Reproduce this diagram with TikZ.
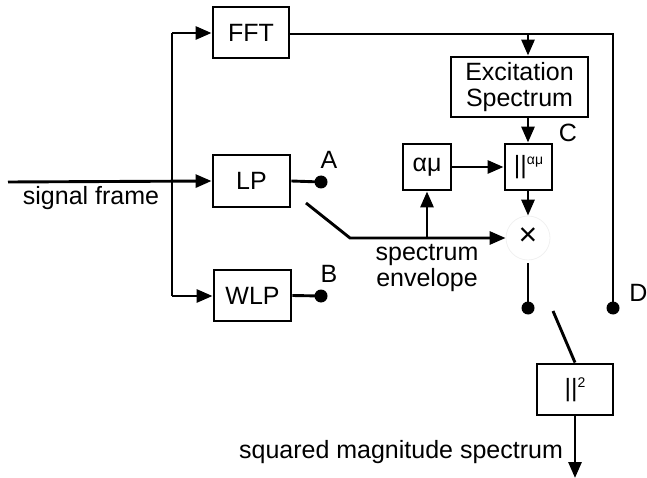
\documentclass[tikz,border=0pt]{standalone}
\usepackage{fontspec}
\setmainfont{Liberation Sans}
\usetikzlibrary{arrows.meta}
\begin{document}
\begin{tikzpicture}[x=1pt,y=-1pt,
  line width=2.9pt,
  every node/.style={font=\fontsize{25}{28}\selectfont, inner sep=0pt},
  blk/.style={draw, line width=2.9pt, rectangle},
  arr/.style={-{Triangle[length=16pt,width=13pt]}},
  dotc/.style={fill, circle, minimum size=13pt, inner sep=0pt},
  lbl/.style={font=\fontsize{25}{28}\selectfont}]
\useasboundingbox (0,0) rectangle (647,478);
% blocks
\node[blk, minimum width=76pt, minimum height=51pt] (fft) at (251,32.5) {FFT};
\node[blk, minimum width=77pt, minimum height=52pt] (lp) at (251.5,181) {LP};
\node[blk, minimum width=77pt, minimum height=51pt] (wlp) at (252.5,295.5) {WLP};
\node[blk, minimum width=137pt, minimum height=60pt, align=center] (exc) at (519.5,87) {Excitation\\[-2pt]Spectrum};
\node[blk, minimum width=47pt, minimum height=46pt] (absmu) at (528.5,167) {||\raisebox{9pt}{\fontsize{14}{14}\selectfont αμ}};
\node[blk, minimum width=48pt, minimum height=46pt] (amu) at (427,167) {αμ};
\node[draw=black!6, line width=0.8pt, circle, minimum size=44pt] (mult) at (528,238) {};
\node[font=\fontsize{32}{32}\selectfont] (x) at (528,237) {×};
\node[blk, minimum width=76pt, minimum height=51pt] (sq) at (575,389.5) {||\raisebox{9pt}{\fontsize{14}{14}\selectfont 2}};
% dots
\node[dotc] (da) at (321,182) {};
\node[dotc] (db) at (321,296) {};
\node[dotc] (dc) at (528,308) {};
\node[dotc] (dd) at (613,308) {};
% coordinates
\coordinate (in) at (8,182);
\coordinate (stop) at (172,33);
\coordinate (sbot) at (172,296);
\coordinate (ftop) at (613,34);
\coordinate (exctap) at (528,34);
\coordinate (diag0) at (306,203);
\coordinate (diag1) at (350,238);
\coordinate (envtap) at (427,238);
\coordinate (multout) at (528,263);
\coordinate (sw0) at (553,311);
\coordinate (out) at (575,478);
% labels
\node[lbl] (sig) at (91,198) {signal frame};
\node[lbl] (la) at (329,160) {A};
\node[lbl] (lb) at (329,274) {B};
\node[lbl] (lc) at (568,133) {C};
\node[lbl, anchor=west] (ld) at (628,293) {D};
\node[lbl, align=center] (env) at (427,268) {spectrum\\[-2pt]envelope};
\node[lbl] (sqm) at (401,452) {squared magnitude spectrum};
% connectors
\draw[arr] (in) -- (lp.west);
\draw (stop) -- (sbot);
\draw[arr] (stop) -- (fft.west |- stop);
\draw[arr] (sbot) -- (wlp.west |- sbot);
\draw (fft.east |- ftop) -- (ftop) -- (dd.center);
\draw[arr] (exctap) -- (exc.north -| exctap);
\draw[arr] (exc.south -| exctap) -- (absmu.north -| exctap);
\draw[arr] (amu.east) -- (absmu.west);
\draw[arr] (absmu.south -| exctap) -- (mult.north);
\draw (lp.east) -- (da.center);
\draw (wlp.east) -- (db.center);
\draw[arr] (diag0) -- (diag1) -- (mult.west);
\draw[arr] (envtap) -- (amu.south);
\draw (multout) -- (dc.center);
\draw (sw0) -- (sq.north);
\draw[arr] (sq.south) -- (out);
\end{tikzpicture}
\end{document}
